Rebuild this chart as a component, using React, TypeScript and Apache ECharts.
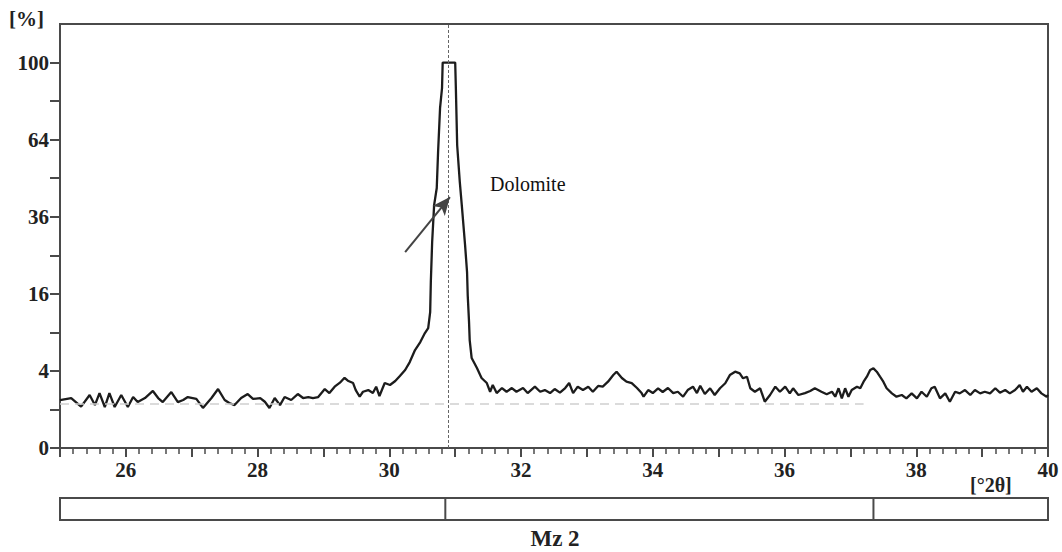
import React, { useEffect, useRef } from "react";
import * as echarts from "echarts";

// 2θ positions (degrees) and intensities (%)
const twoTheta = [
  25.0, 25.17, 25.32, 25.45, 25.53, 25.6, 25.68, 25.75, 25.83, 25.93, 26.03, 26.11, 26.18, 26.29, 26.41, 26.49,
  26.56, 26.69, 26.79, 26.87, 26.94, 27.07, 27.17, 27.3, 27.4, 27.5, 27.57, 27.65, 27.75, 27.85, 27.93, 28.04,
  28.11, 28.18, 28.26, 28.34, 28.41, 28.51, 28.61, 28.69, 28.77, 28.84, 28.92, 29.02, 29.09, 29.17, 29.25, 29.32,
  29.37, 29.45, 29.49, 29.55, 29.6, 29.68, 29.75, 29.8, 29.85, 29.93, 30.01, 30.09, 30.16, 30.24, 30.31, 30.39,
  30.47, 30.54, 30.59, 30.62, 30.63, 30.65, 30.68, 30.72, 30.74, 30.77, 30.8, 30.81, 31.0, 31.01, 31.03, 31.07,
  31.1, 31.15, 31.18, 31.19, 31.21, 31.22, 31.25, 31.33, 31.4, 31.48, 31.53, 31.57, 31.63, 31.71, 31.78, 31.86,
  31.93, 32.03, 32.1, 32.21, 32.29, 32.36, 32.44, 32.51, 32.59, 32.67, 32.73, 32.79, 32.86, 32.94, 33.02, 33.09,
  33.17, 33.24, 33.32, 33.4, 33.45, 33.53, 33.6, 33.68, 33.76, 33.83, 33.86, 33.93, 34.0, 34.08, 34.15, 34.23,
  34.31, 34.38, 34.46, 34.53, 34.61, 34.67, 34.72, 34.79, 34.87, 34.94, 35.02, 35.1, 35.17, 35.25, 35.32, 35.37,
  35.43, 35.48, 35.55, 35.63, 35.7, 35.78, 35.86, 35.93, 36.01, 36.08, 36.13, 36.21, 36.31, 36.39, 36.46, 36.56,
  36.64, 36.72, 36.77, 36.82, 36.87, 36.92, 36.97, 37.02, 37.1, 37.15, 37.2, 37.25, 37.3, 37.35, 37.4, 37.45,
  37.5, 37.55, 37.63, 37.7, 37.78, 37.85, 37.93, 38.01, 38.08, 38.16, 38.23, 38.28, 38.36, 38.44, 38.51, 38.59,
  38.66, 38.74, 38.82, 38.89, 38.97, 39.04, 39.12, 39.2, 39.27, 39.35, 39.42, 39.5, 39.57, 39.62, 39.68, 39.75,
  39.83, 39.9, 39.98, 40.0,
];
const intensity = [
  1.55, 1.68, 1.15, 1.89, 1.24, 2.03, 1.13, 2.03, 1.13, 1.89, 1.13, 1.75, 1.42, 1.68, 2.19, 1.68,
  1.42, 2.11, 1.42, 1.55, 1.75, 1.62, 1.08, 1.68, 2.34, 1.55, 1.36, 1.24, 1.68, 1.96, 1.62, 1.68,
  1.44, 1.08, 1.68, 1.24, 1.75, 1.55, 1.96, 1.68, 1.75, 1.68, 1.75, 2.34, 2.03, 2.53, 2.87, 3.32,
  3.05, 2.84, 2.26, 1.77, 2.13, 2.26, 2.03, 2.53, 1.82, 2.84, 2.67, 3.02, 3.49, 4.09, 4.97, 6.46,
  7.56, 8.89, 9.68, 12.44, 18.53, 28.5, 39.7, 45.5, 58.9, 77.7, 87.2, 100, 100, 87.2, 61.7, 47.6,
  39.7, 27.7, 20.8, 15.7, 10.7, 7.84, 5.45, 4.3, 3.3, 2.84, 2.13, 2.67, 2.03, 2.42, 2.13, 2.42,
  2.13, 2.42, 2.03, 2.53, 2.13, 2.26, 2.03, 2.34, 2.06, 2.42, 2.84, 2.03, 2.53, 2.26, 2.53, 2.13,
  2.59, 2.53, 2.96, 3.58, 3.92, 3.3, 2.96, 2.84, 2.42, 2.03, 1.77, 2.26, 2.03, 2.4, 2.11, 2.42,
  2.03, 2.13, 1.77, 2.26, 2.53, 2.03, 2.61, 1.96, 2.4, 1.89, 2.4, 2.82, 3.58, 3.92, 3.75, 3.27,
  3.42, 2.4, 2.13, 2.4, 1.44, 1.89, 2.53, 2.13, 2.53, 2.01, 2.4, 1.89, 2.03, 2.19, 2.4, 2.13,
  1.94, 2.13, 1.77, 2.4, 1.66, 2.4, 1.77, 2.26, 2.53, 2.4, 2.96, 3.42, 4.09, 4.27, 3.92, 3.42,
  2.96, 2.4, 2.01, 1.77, 1.89, 1.66, 2.01, 1.66, 2.13, 1.77, 2.4, 2.53, 1.66, 2.01, 1.44, 2.13,
  2.01, 2.26, 1.89, 2.26, 2.01, 2.13, 2.01, 2.4, 2.06, 2.26, 2.01, 2.26, 2.67, 2.13, 2.53, 2.13,
  2.4, 2.01, 1.77, 1.89,
];

const yLabelValues = [0, 4, 16, 36, 64, 100];
const yMinorValues = [1, 9, 25, 49, 81];
const xLabelValues = [26, 28, 30, 32, 34, 36, 38, 40];
const xMin = 25;
const xMax = 40;
const yMaxValue = 121;

const dolomitePeak = 30.9;
const baselineLevel = 1.34;
const baselineEnd = 37.2;
const segmentBounds = [30.85, 37.35];
const arrowFrom = [30.24, 25.8];
const arrowTo = [30.92, 42.4];

const SERIF = "'Liberation Serif', 'Times New Roman', serif";
const AXIS_COLOR = "#4a4a4a";

export default function App() {
  const ref = useRef<HTMLDivElement>(null);

  useEffect(() => {
    if (!ref.current) return;
    const chart = echarts.init(ref.current, undefined, { renderer: "svg" });
    const sq = (v: number) => Math.sqrt(v);
    const lineData = twoTheta.map((x, i) => [x, sq(intensity[i])]);

    chart.setOption({
      animation: false,
      backgroundColor: "#ffffff",
      grid: [
        {
          left: 60,
          right: 14,
          top: 24,
          bottom: 104,
          show: true,
          borderColor: AXIS_COLOR,
          borderWidth: 2,
        },
        {
          left: 60,
          right: 14,
          top: 498,
          height: 22,
          show: true,
          borderColor: AXIS_COLOR,
          borderWidth: 2,
        },
      ],
      xAxis: [
        {
          type: "value",
          min: xMin,
          max: xMax,
          interval: 1,
          axisLine: { show: true, lineStyle: { color: AXIS_COLOR, width: 2 } },
          axisTick: { show: true, length: 9, lineStyle: { color: AXIS_COLOR, width: 2 } },
          minorTick: { show: true, splitNumber: 5, length: 6, lineStyle: { color: AXIS_COLOR, width: 1.5 } },
          axisLabel: {
            customValues: xLabelValues,
            formatter: (v: number) => String(v),
            fontFamily: SERIF,
            fontWeight: "bold",
            fontSize: 21,
            color: "#222",
            margin: 11,
          },
          splitLine: { show: false },
        },
        { type: "value", gridIndex: 1, min: xMin, max: xMax, show: false },
      ],
      yAxis: [
        {
          type: "value",
          min: 0,
          max: sq(yMaxValue),
          axisLine: { show: true, lineStyle: { color: AXIS_COLOR, width: 2 } },
          axisTick: {
            show: true,
            length: 10,
            customValues: yLabelValues.concat(yMinorValues).map(sq),
            lineStyle: { color: AXIS_COLOR, width: 2 },
          },
          axisLabel: {
            customValues: yLabelValues.map(sq),
            formatter: (v: number) => String(Math.round(v * v)),
            fontFamily: SERIF,
            fontWeight: "bold",
            fontSize: 21,
            color: "#222",
            margin: 11,
          },
          splitLine: { show: false },
        },
        { type: "value", gridIndex: 1, min: 0, max: 1, show: false },
      ],
      series: [
        {
          type: "line",
          data: lineData,
          showSymbol: false,
          symbol: "none",
          lineStyle: { color: "#1c1c1c", width: 2.3 },
          z: 3,
          markLine: {
            silent: true,
            symbol: "none",
            label: { show: false },
            data: [
              {
                xAxis: dolomitePeak,
                lineStyle: { type: [3, 2], color: "#666", width: 1 },
              },
              [
                { coord: [xMin, sq(baselineLevel)], lineStyle: { type: [9, 6], color: "#cfcfcf", width: 1.5 } },
                { coord: [baselineEnd, sq(baselineLevel)] },
              ],
              [
                {
                  coord: [arrowFrom[0], sq(arrowFrom[1])],
                  symbol: "none",
                  lineStyle: { type: "solid", color: "#444", width: 2 },
                },
                { coord: [arrowTo[0], sq(arrowTo[1])], symbol: "arrow", symbolSize: [12, 18] },
              ],
            ],
          },
        },
        {
          type: "custom",
          xAxisIndex: 1,
          yAxisIndex: 1,
          data: segmentBounds.map((b) => [b]),
          renderItem: (_params: any, api: any) => {
            const x = api.value(0);
            const top = api.coord([x, 1]);
            const bot = api.coord([x, 0]);
            return {
              type: "line",
              shape: { x1: top[0], y1: top[1], x2: bot[0], y2: bot[1] },
              style: { stroke: AXIS_COLOR, lineWidth: 2 },
            };
          },
        },
      ],
      graphic: [
        {
          type: "text",
          left: 9,
          top: 8,
          style: { text: "[%]", fontFamily: SERIF, fontWeight: "bold", fontSize: 21, fill: "#222" },
        },
        {
          type: "text",
          left: 970,
          top: 475,
          style: { text: "[°2θ]", fontFamily: SERIF, fontWeight: "bold", fontSize: 20, fill: "#222" },
        },
        {
          type: "text",
          left: 490,
          top: 174,
          style: { text: "Dolomite", fontFamily: SERIF, fontSize: 20, fill: "#111" },
        },
        {
          type: "text",
          x: 555,
          y: 527,
          style: {
            text: "Mz 2",
            fontFamily: SERIF,
            fontWeight: "bold",
            fontSize: 23,
            fill: "#222",
            align: "center",
            verticalAlign: "top",
          },
        },
      ],
    });

    return () => chart.dispose();
  }, []);

  return (
    <div
      ref={ref}
      style={{ position: "fixed", left: 0, top: 0, width: 1062, height: 552, background: "#fff" }}
    />
  );
}
